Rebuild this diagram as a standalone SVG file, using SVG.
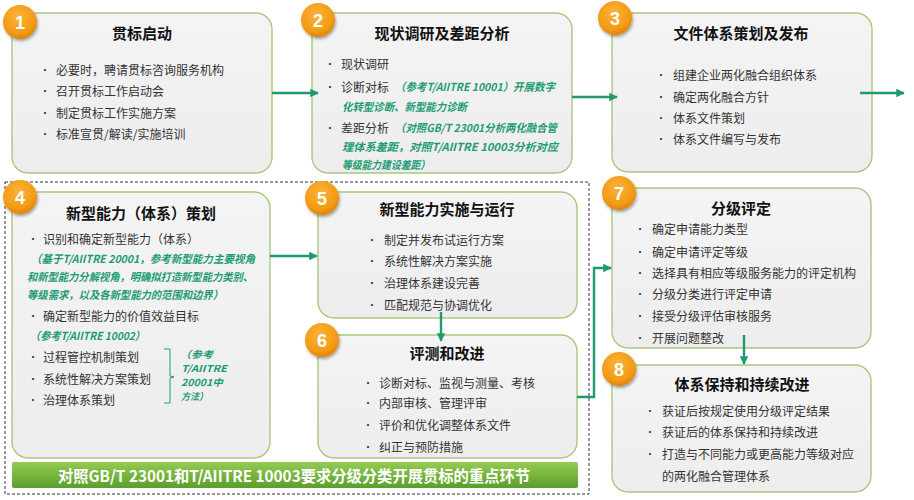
<svg xmlns="http://www.w3.org/2000/svg" width="914" height="500" viewBox="0 0 914 500">
<defs>
<linearGradient id="boxg" x1="0" y1="0" x2="0" y2="1"><stop offset="0" stop-color="#f4f4f4"/><stop offset="1" stop-color="#ededed"/></linearGradient>
<radialGradient id="badgeg" cx="0.45" cy="0.35" r="0.7"><stop offset="0" stop-color="#fbb33a"/><stop offset="0.7" stop-color="#f39a14"/><stop offset="1" stop-color="#d97d05"/></radialGradient>
<linearGradient id="bang" x1="0" y1="0" x2="0" y2="1"><stop offset="0" stop-color="#94cc52"/><stop offset="1" stop-color="#5a9e2c"/></linearGradient>
<filter id="sh" x="-40%" y="-40%" width="180%" height="180%"><feDropShadow dx="1" dy="2" stdDeviation="1.5" flood-color="#000" flood-opacity="0.35"/></filter>
<marker id="ah" viewBox="0 0 10 10" refX="9" refY="5" markerWidth="3.6" markerHeight="3.6" orient="auto" markerUnits="strokeWidth"><path d="M0,0 L10,5 L0,10 z" fill="#1f9a70"/></marker>
<style>
.box{fill:url(#boxg);stroke:#a9c87c;stroke-width:1.4}
text{font-family:"Noto Sans CJK SC","Liberation Sans",sans-serif;dominant-baseline:central}
.t{font-size:15px;font-weight:bold;fill:#111;text-anchor:middle}
.b{font-size:12px;fill:#333}
.d{font-size:10px;fill:#333}
.g{font-size:11px;font-style:italic;font-weight:bold;fill:#1e9c74}
.gs{font-size:9.5px;font-style:italic;font-weight:bold;fill:#1e9c74}
.n{font-size:18px;font-weight:bold;fill:#fff;text-anchor:middle;font-family:"Liberation Sans",sans-serif}
.bc{fill:url(#badgeg);filter:url(#sh)}
.c{fill:none;stroke:#1f9a70;stroke-width:2.4;marker-end:url(#ah)}
.ban{font-size:16px;font-weight:bold;fill:#fff;text-anchor:middle}
</style>
</defs>

<rect x="5" y="182" width="584" height="312" fill="none" stroke="#333" stroke-width="1" stroke-dasharray="3,2"/>

<g id="node1">
<rect class="box" x="12" y="13" width="260" height="160" rx="16"/>
<text class="t" x="142" y="32">贯标启动</text>
<text class="d" x="40" y="69">•</text><text class="b" x="56" y="69">必要时，聘请贯标咨询服务机构</text>
<text class="d" x="40" y="90">•</text><text class="b" x="56" y="90">召开贯标工作启动会</text>
<text class="d" x="40" y="112">•</text><text class="b" x="56" y="112">制定贯标工作实施方案</text>
<text class="d" x="40" y="133">•</text><text class="b" x="56" y="133">标准宣贯/解读/实施培训</text>
<circle class="bc" cx="20" cy="22" r="17"/><text class="n" x="20" y="23">1</text>
</g>

<g id="node2">
<rect class="box" x="312" y="13" width="260" height="160" rx="16"/>
<text class="t" x="442" y="32">现状调研及差距分析</text>
<text class="d" x="325" y="63">•</text><text class="b" x="341" y="63">现状调研</text>
<text class="d" x="325" y="86">•</text><text class="b" x="341" y="86">诊断对标</text>
<text class="g" x="395" y="86" textLength="160" lengthAdjust="spacingAndGlyphs">（参考T/AIITRE 10001）开展数字</text>
<text class="g" x="342" y="106" textLength="125" lengthAdjust="spacingAndGlyphs">化转型诊断、新型能力诊断</text>
<text class="d" x="325" y="127">•</text><text class="b" x="341" y="127">差距分析</text>
<text class="g" x="395" y="127" textLength="162" lengthAdjust="spacingAndGlyphs">（对照GB/T 23001分析两化融合管</text>
<text class="g" x="342" y="146" textLength="216" lengthAdjust="spacingAndGlyphs">理体系差距，对照T/AIITRE 10003分析对应</text>
<text class="g" x="342" y="164" textLength="88" lengthAdjust="spacingAndGlyphs">等级能力建设差距）</text>
<circle class="bc" cx="318" cy="20" r="17"/><text class="n" x="318" y="21">2</text>
</g>

<g id="node3">
<rect class="box" x="612" y="13" width="260" height="159" rx="16"/>
<text class="t" x="741" y="32">文件体系策划及发布</text>
<text class="d" x="656" y="74">•</text><text class="b" x="673" y="74">组建企业两化融合组织体系</text>
<text class="d" x="656" y="96">•</text><text class="b" x="673" y="96">确定两化融合方针</text>
<text class="d" x="656" y="117">•</text><text class="b" x="673" y="117">体系文件策划</text>
<text class="d" x="656" y="138">•</text><text class="b" x="673" y="138">体系文件编写与发布</text>
<circle class="bc" cx="615" cy="18" r="17"/><text class="n" x="615" y="19">3</text>
</g>

<g id="node4">
<rect class="box" x="12" y="192" width="258" height="266" rx="16"/>
<text class="t" x="141" y="212">新型能力（体系）策划</text>
<text class="d" x="28" y="238">•</text><text class="b" x="43" y="238">识别和确定新型能力（体系）</text>
<text class="g" x="31" y="258" textLength="224" lengthAdjust="spacingAndGlyphs">（基于T/AIITRE 20001，参考新型能力主要视角</text>
<text class="g" x="27" y="276" textLength="226" lengthAdjust="spacingAndGlyphs">和新型能力分解视角，明确拟打造新型能力类别、</text>
<text class="g" x="27" y="294" textLength="196" lengthAdjust="spacingAndGlyphs">等级需求，以及各新型能力的范围和边界）</text>
<text class="d" x="28" y="315">•</text><text class="b" x="43" y="315">确定新型能力的价值效益目标</text>
<text class="g" x="30" y="335" textLength="115" lengthAdjust="spacingAndGlyphs">（参考T/AIITRE 10002）</text>
<text class="d" x="28" y="356">•</text><text class="b" x="43" y="356">过程管控机制策划</text>
<text class="d" x="28" y="378">•</text><text class="b" x="43" y="378">系统性解决方案策划</text>
<text class="d" x="28" y="399">•</text><text class="b" x="43" y="399">治理体系策划</text>
<path d="M164,349 L170,349 L170,376 L174,377 L170,378 L170,403 L164,403" fill="none" stroke="#1e9c74" stroke-width="1"/>
<text class="gs" x="180" y="354" textLength="33" lengthAdjust="spacingAndGlyphs">（参考</text>
<text class="gs" x="181" y="368" textLength="46" lengthAdjust="spacingAndGlyphs">T/AIITRE</text>
<text class="gs" x="181" y="382" textLength="42" lengthAdjust="spacingAndGlyphs">20001中</text>
<text class="gs" x="181" y="396" textLength="27" lengthAdjust="spacingAndGlyphs">方法）</text>
<circle class="bc" cx="20" cy="197" r="17"/><text class="n" x="20" y="198">4</text>
</g>

<g id="node5">
<rect class="box" x="318" y="192" width="259" height="126" rx="16"/>
<text class="t" x="447" y="208">新型能力实施与运行</text>
<text class="d" x="367" y="239">•</text><text class="b" x="384" y="239">制定并发布试运行方案</text>
<text class="d" x="367" y="260">•</text><text class="b" x="384" y="260">系统性解决方案实施</text>
<text class="d" x="367" y="282">•</text><text class="b" x="384" y="282">治理体系建设完善</text>
<text class="d" x="367" y="304">•</text><text class="b" x="384" y="304">匹配规范与协调优化</text>
<circle class="bc" cx="322" cy="198" r="17"/><text class="n" x="322" y="199">5</text>
</g>

<g id="node6">
<rect class="box" x="318" y="335" width="259" height="123" rx="16"/>
<text class="t" x="447" y="352">评测和改进</text>
<text class="d" x="363" y="382">•</text><text class="b" x="379" y="382">诊断对标、监视与测量、考核</text>
<text class="d" x="363" y="402">•</text><text class="b" x="379" y="402">内部审核、管理评审</text>
<text class="d" x="363" y="424">•</text><text class="b" x="379" y="424">评价和优化调整体系文件</text>
<text class="d" x="363" y="446">•</text><text class="b" x="379" y="446">纠正与预防措施</text>
<circle class="bc" cx="322" cy="340" r="17"/><text class="n" x="322" y="341">6</text>
</g>

<g id="banner">
<rect x="12" y="462" width="566" height="26" rx="2" fill="url(#bang)"/>
<text class="ban" x="294" y="475" textLength="472" lengthAdjust="spacingAndGlyphs">对照GB/T 23001和T/AIITRE 10003要求分级分类开展贯标的重点环节</text>
</g>

<g id="node7">
<rect class="box" x="612" y="188" width="259" height="160" rx="16"/>
<text class="t" x="741" y="207">分级评定</text>
<text class="d" x="635" y="228">•</text><text class="b" x="652" y="228">确定申请能力类型</text>
<text class="d" x="635" y="251">•</text><text class="b" x="652" y="251">确定申请评定等级</text>
<text class="d" x="635" y="272">•</text><text class="b" x="652" y="272">选择具有相应等级服务能力的评定机构</text>
<text class="d" x="635" y="293">•</text><text class="b" x="652" y="293">分级分类进行评定申请</text>
<text class="d" x="635" y="315">•</text><text class="b" x="652" y="315">接受分级评估审核服务</text>
<text class="d" x="635" y="337">•</text><text class="b" x="652" y="337">开展问题整改</text>
<circle class="bc" cx="619" cy="193" r="17"/><text class="n" x="619" y="194">7</text>
</g>

<g id="node8">
<rect class="box" x="612" y="365" width="259" height="127" rx="16"/>
<text class="t" x="742" y="383">体系保持和持续改进</text>
<text class="d" x="645" y="410">•</text><text class="b" x="662" y="410">获证后按规定使用分级评定结果</text>
<text class="d" x="645" y="431">•</text><text class="b" x="662" y="431">获证后的体系保持和持续改进</text>
<text class="d" x="645" y="453">•</text><text class="b" x="662" y="453">打造与不同能力或更高能力等级对应</text>
<text class="b" x="662" y="475">的两化融合管理体系</text>
<circle class="bc" cx="619" cy="369" r="17"/><text class="n" x="619" y="370">8</text>
</g>

<g id="connectors">
<line class="c" x1="272" y1="93" x2="318" y2="93"/>
<line class="c" x1="572" y1="97" x2="617" y2="97"/>
<line class="c" x1="860" y1="93" x2="904" y2="93"/>
<line class="c" x1="270" y1="256" x2="317" y2="256"/>
<line class="c" x1="441" y1="312" x2="441" y2="341"/>
<polyline class="c" points="577,397 594,397 594,268 611,268"/>
<line class="c" x1="744" y1="335" x2="744" y2="364"/>
</g>
</svg>
